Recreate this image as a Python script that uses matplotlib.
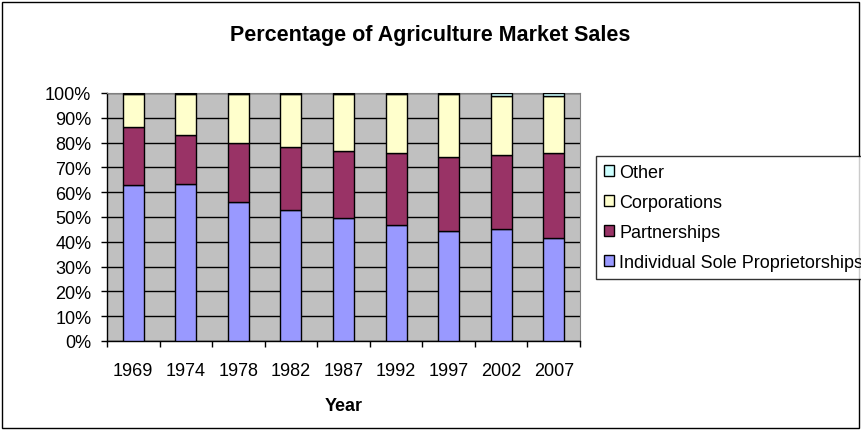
import numpy as np
import matplotlib
matplotlib.use("Agg")
import matplotlib.pyplot as plt
from matplotlib.patches import Rectangle

plt.rcParams['font.family'] = ['Liberation Sans', 'DejaVu Sans']

years = ["1969", "1974", "1978", "1982", "1987", "1992", "1997", "2002", "2007"]
# percent of market sales
individual = [62.8, 63.3, 55.9, 53.0, 49.6, 46.9, 44.5, 45.0, 41.5]
partnerships = [23.5, 19.6, 24.1, 25.2, 27.0, 29.0, 29.8, 30.0, 34.4]
corporations = [13.4, 16.8, 19.7, 21.5, 23.1, 23.8, 25.4, 23.8, 22.9]
other = [0.3, 0.3, 0.3, 0.3, 0.3, 0.3, 0.3, 1.2, 1.2]

names = ["Individual Sole Proprietorships", "Partnerships", "Corporations", "Other"]
colors = ["#9999FF", "#993366", "#FFFFCC", "#CCFFFF"]

fig = plt.figure(figsize=(8.61, 4.31), dpi=100)
ax = fig.add_axes([107/861, 1-342/431, (580-107)/861, (342-94)/431])
ax.set_facecolor("#C0C0C0")

x = np.arange(len(years))
bottom = np.zeros(len(years))
handles = []
for vals, nm, c in zip([individual, partnerships, corporations, other], names, colors):
    b = ax.bar(x, vals, bottom=bottom, width=0.4, color=c, edgecolor="black",
               linewidth=1, label=nm, zorder=3)
    handles.append(b)
    bottom += np.array(vals)

ax.set_xlim(-0.5, len(years) - 0.5)
ax.set_ylim(0, 100)
ax.set_yticks(np.arange(0, 101, 10))
ax.set_yticklabels([f"{v}%" for v in range(0, 101, 10)], fontsize=13)
ax.yaxis.grid(True, color="black", linewidth=1, zorder=1)
ax.set_axisbelow(True)

# category labels centred, tick marks between categories
ax.set_xticks(x)
ax.set_xticklabels(years, fontsize=13)
ax.tick_params(axis="x", length=0, pad=15)
ax.set_xticks(np.arange(-0.5, len(years)), minor=True)
ax.tick_params(axis="x", which="minor", length=4.3, direction="out", width=1)
ax.tick_params(axis="y", length=4.3, direction="out", width=1, pad=7)

for s in ["top", "right"]:
    ax.spines[s].set_color("#808080")
for s in ["left", "bottom"]:
    ax.spines[s].set_color("black")
    ax.spines[s].set_linewidth(1)

ax.set_xlabel("Year", fontsize=13, fontweight="bold", labelpad=13)
fig.text(0.5, 1-35/431, "Percentage of Agriculture Market Sales", ha="center",
         va="center", fontsize=15.5, fontweight="bold")

leg = fig.legend(handles[::-1], names[::-1], loc="upper left",
                 bbox_to_anchor=(596/861, 1-157/431), fontsize=13,
                 frameon=True, fancybox=False, handlelength=0.55,
                 handleheight=0.55, handletextpad=0.3, labelspacing=0.72,
                 borderpad=0.45, borderaxespad=0)
leg.get_frame().set_edgecolor("black")
leg.get_frame().set_linewidth(1)

fig.patches.append(Rectangle((2/861, 2/431), 857/861, 426/431, transform=fig.transFigure,
                             fill=False, edgecolor="black", linewidth=1))

fig.savefig("out.png", dpi=100)
